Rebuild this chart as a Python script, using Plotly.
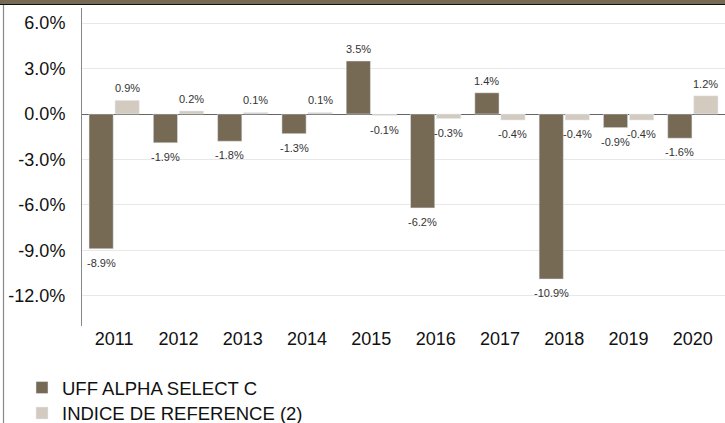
import plotly.graph_objects as go

years = ["2011", "2012", "2013", "2014", "2015", "2016", "2017", "2018", "2019", "2020"]
fund_name = "UFF ALPHA SELECT C"
index_name = "INDICE DE REFERENCE (2)"
fund_values = [-8.9, -1.9, -1.8, -1.3, 3.5, -6.2, 1.4, -10.9, -0.9, -1.6]
index_values = [0.9, 0.2, 0.1, 0.1, -0.1, -0.3, -0.4, -0.4, -0.4, 1.2]
y_ticks = [-12, -9, -6, -3, 0, 3, 6]

FUND_COLOR = "#776A55"
INDEX_COLOR = "#D3CAC0"
FONT = "Liberation Sans, Arial, sans-serif"

W, H = 725, 423
L, R, T, B = 82, 0, 8, 97
PW, PH = W - L - R, H - T - B
BARGAP = 0.19


def px_x(px):
    return (px - L) / PW


def px_y(py):
    return (H - B - py) / PH


label_font = dict(size=11, color="#333333", family=FONT)

fig = go.Figure()
fig.add_trace(go.Bar(
    x=years, y=fund_values, name=fund_name, marker_color=FUND_COLOR,
    legend="legend", hoverinfo="x+y",
))
fig.add_trace(go.Bar(
    x=years, y=index_values, name=index_name, marker_color=INDEX_COLOR,
    legend="legend2", hoverinfo="x+y",
))

# value labels, placed from the data through the axes (category index + bar offset)
bar_offset = (1 - BARGAP) / 4
annotations = []
for values, off in ((fund_values, -bar_offset), (index_values, bar_offset)):
    for i, v in enumerate(values):
        annotations.append(dict(
            x=i + off, y=v, xref="x", yref="y", text=f"{v:.1f}%",
            showarrow=False, yshift=12 if v >= 0 else -14,
            xanchor="center", yanchor="middle", font=label_font,
        ))

shapes = [
    dict(type="rect", xref="paper", yref="paper", x0=px_x(0), x1=px_x(W + 5),
         y0=px_y(4), y1=px_y(-2), fillcolor=FUND_COLOR, line_width=0, layer="above"),
    dict(type="line", xref="paper", yref="paper", x0=px_x(0), x1=px_x(W + 5),
         y0=px_y(4.5), y1=px_y(4.5), line=dict(color="#111111", width=1.2), layer="above"),
    dict(type="line", xref="paper", yref="paper", x0=px_x(3.5), x1=px_x(3.5),
         y0=px_y(5), y1=px_y(H + 5), line=dict(color="#888888", width=1.2), layer="above"),
]

legend_common = dict(
    xanchor="left", yanchor="middle", orientation="v",
    font=dict(size=18.5, color="#111111", family=FONT),
    bgcolor="rgba(0,0,0,0)", itemclick=False, itemdoubleclick=False,
)

fig.update_layout(
    width=W, height=H,
    margin=dict(l=L, r=R, t=T, b=B, pad=0, autoexpand=False),
    paper_bgcolor="white", plot_bgcolor="white",
    barmode="group", bargap=BARGAP, bargroupgap=0.07,
    font=dict(family=FONT, color="#111111", size=18),
    showlegend=True,
    legend=dict(x=px_x(22), y=px_y(388), **legend_common),
    legend2=dict(x=px_x(22), y=px_y(413.5), **legend_common),
    shapes=shapes,
    annotations=annotations,
    xaxis=dict(
        type="category", categoryorder="array", categoryarray=years,
        range=[-0.5, len(years) - 0.5],
        showgrid=False, showline=False, ticks="",
        tickfont=dict(size=18, color="#111111"),
    ),
    yaxis=dict(
        range=[-14, 7], tickvals=y_ticks, ticktext=[f"{v:.1f}%" for v in y_ticks],
        showgrid=True, gridcolor="#E8E8E8", gridwidth=1,
        zeroline=True, zerolinecolor="#666666", zerolinewidth=1,
        showline=True, linecolor="#888888", linewidth=1,
        ticks="", ticklabelstandoff=12,
        tickfont=dict(size=18, color="#111111"),
    ),
)

fig.write_html("out.html", config={"displayModeBar": False},
               post_script="document.body.style.margin='0';")
